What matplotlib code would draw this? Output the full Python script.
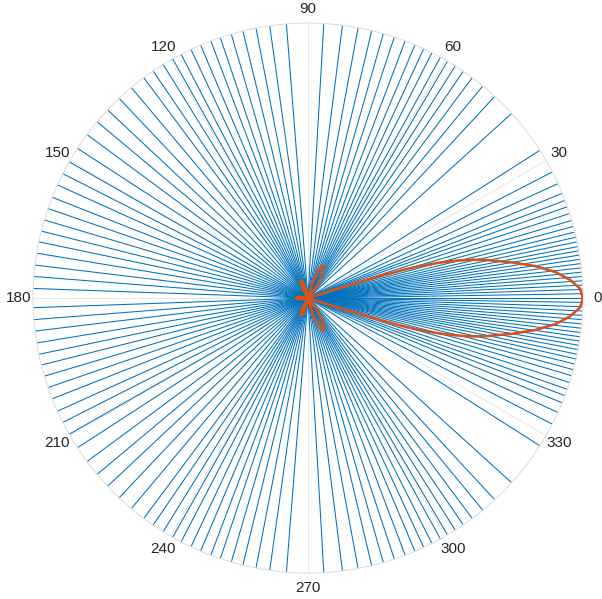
import numpy as np
import matplotlib
matplotlib.use("Agg")
import matplotlib.pyplot as plt

# ray directions (deg) of the blue trace, upper half; pattern is mirror-symmetric
ray_deg = [0, 0.9, 1.8, 2.7, 3.6, 4.5, 5.4, 6.3, 7.2, 8.1, 9.0, 9.9, 10.8, 11.8,
           12.8, 13.9, 15.1, 16.4, 17.9, 19.4, 20.8, 22.4, 24.6, 27.3, 32.5,
           42.2, 47.2, 50.5, 53.3, 55.6, 57.6, 59.5, 61.2, 63.2, 65.1, 67.1,
           69.3, 71.7, 74.1, 76.6, 79.5, 82.8, 86.7, 94.5, 98.0, 100.9, 103.7,
           106.2, 108.6, 110.7, 113.0, 115.2, 117.5, 119.5, 121.8, 124.3, 126.7,
           130.0, 133.4, 136.8, 140.1, 143.5, 147.0, 150.3, 153.1, 155.7, 158.5,
           161.0, 163.5, 165.9, 168.2, 170.6, 173.1, 175.5, 178.0]

# orange pattern, upper half (deg, normalised radius)
pat_deg = [0, 2, 4, 6, 8, 10, 12, 13, 14, 15, 16, 16.5, 17, 17.5, 18,
           50, 54, 58, 62, 64, 66, 70, 74, 78,
           100, 104, 108, 112, 116, 120, 124,
           165, 170, 175, 180]
pat_r = [1.0, 0.99, 0.955, 0.905, 0.835, 0.75, 0.665, 0.62, 0.565, 0.50, 0.42,
         0.36, 0.26, 0.13, 0.0,
         0.0, 0.06, 0.10, 0.125, 0.13, 0.127, 0.105, 0.06, 0.0,
         0.0, 0.035, 0.06, 0.07, 0.062, 0.04, 0.0,
         0.0, 0.025, 0.04, 0.044]

theta_labels = [str(a) for a in range(0, 360, 30)]

rays = np.array(ray_deg)
rays = np.concatenate([rays, 360 - rays[1:]])

pd_ = np.array(pat_deg)
pr_ = np.array(pat_r)
# full curve: upper half then mirrored lower half
th_full = np.concatenate([pd_, 360 - pd_[::-1]])
r_full = np.concatenate([pr_, pr_[::-1]])

plt.rcParams['font.family'] = ['Liberation Sans', 'DejaVu Sans']

fig = plt.figure(figsize=(6.02, 5.99), dpi=100)
ax = fig.add_axes([0.0548, 0.0434, 0.9136, 0.918], projection='polar')

ax.vlines(np.deg2rad(rays), 0, 1, color='#0072BD', lw=0.75, zorder=2)
ax.plot(np.deg2rad(th_full), r_full, color='#D95319', lw=1.9, zorder=3)

ax.set_ylim(0, 1)
ax.set_yticks([])
ax.set_thetagrids(range(0, 360, 30), theta_labels)
ax.tick_params(axis='x', pad=3.5, labelsize=11, colors='#262626', length=0)
ax.grid(True, color='#e3e3e3', lw=0.6)
ax.spines['polar'].set_color('#dedede')
ax.spines['polar'].set_linewidth(0.8)

fig.savefig('out.png', dpi=100)
